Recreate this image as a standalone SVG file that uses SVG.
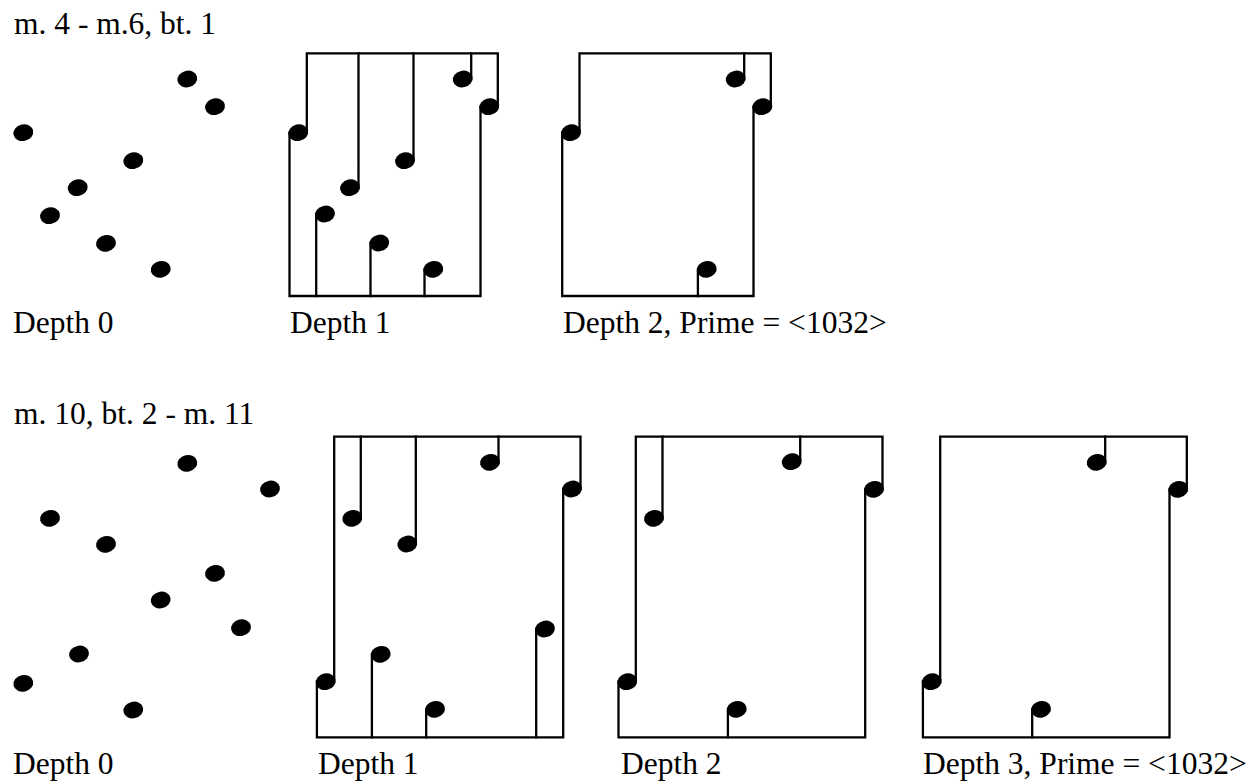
<svg xmlns="http://www.w3.org/2000/svg" xmlns:xlink="http://www.w3.org/1999/xlink" width="1251" height="782" viewBox="0 0 1251 782">
<style>
.t{font-family:"Liberation Serif","Times New Roman",serif;font-size:31.5px;fill:#000}
.ln{fill:none;stroke:#000;stroke-width:2.3;stroke-linecap:square}
</style>
<defs>
<ellipse id="h" cx="0" cy="0" rx="10" ry="8.3" transform="rotate(-12)" fill="#000"/>
</defs>
<rect width="1251" height="782" fill="#fff"/>

<g id="labels">
<text class="t" x="14" y="34">m. 4 - m.6, bt. 1</text>
<text class="t" x="13" y="333">Depth 0</text>
<text class="t" x="290" y="333">Depth 1</text>
<text class="t" x="563" y="333">Depth 2, Prime = &lt;1032&gt;</text>
<text class="t" x="14" y="424">m. 10, bt. 2 - m. 11</text>
<text class="t" x="13" y="774">Depth 0</text>
<text class="t" x="318" y="774">Depth 1</text>
<text class="t" x="621" y="774">Depth 2</text>
<text class="t" x="923" y="774">Depth 3, Prime = &lt;1032&gt;</text>
</g>

<g id="connectors">
<!-- top depth 1 -->
<path class="ln" d="M306.8 132.7 V53.3 H497.8 V106.7"/>
<path class="ln" d="M289.5 132.7 V296 H480.5 V106.7"/>
<path class="ln" d="M471.2 79 V53.3 M413.5 160.7 V53.3 M358.5 187.7 V53.3"/>
<path class="ln" d="M316.2 214 V296 M370.5 243 V296 M424.5 269.3 V296"/>
<!-- top depth 2 -->
<path class="ln" d="M579.5 132.7 V53.3 H770.8 V106.7"/>
<path class="ln" d="M562.2 132.7 V296 H753.5 V106.7"/>
<path class="ln" d="M744.2 79 V53.3 M697.9 269.3 V296"/>
<!-- bottom depth 1 -->
<path class="ln" d="M334.2 681.7 V436.7 H580.5 V489"/>
<path class="ln" d="M316.9 681.7 V737.3 H563.2 V489"/>
<path class="ln" d="M360.8 518.3 V436.7 M415.8 544 V436.7 M498.5 462.3 V436.7"/>
<path class="ln" d="M536.2 629 V737.3 M371.9 654.3 V737.3 M426.2 709.3 V737.3"/>
<!-- bottom depth 2 -->
<path class="ln" d="M635.8 681.7 V436.7 H882.5 V489.3"/>
<path class="ln" d="M618.5 681.7 V737.3 H865.2 V489.3"/>
<path class="ln" d="M662.5 518.3 V436.7 M800.2 461.7 V436.7 M727.9 709.3 V737.3"/>
<!-- bottom depth 3 -->
<path class="ln" d="M940.2 681.7 V436.7 H1186.8 V489.3"/>
<path class="ln" d="M922.9 681.7 V737.3 H1169.5 V489.3"/>
<path class="ln" d="M1105.2 462.3 V436.7 M1032.2 709.3 V737.3"/>
</g>

<g id="top-depth0">
<use xlink:href="#h" x="187.3" y="79"/>
<use xlink:href="#h" x="215" y="106.7"/>
<use xlink:href="#h" x="23.3" y="132.7"/>
<use xlink:href="#h" x="133.3" y="160.7"/>
<use xlink:href="#h" x="77.7" y="187.7"/>
<use xlink:href="#h" x="50" y="215.7"/>
<use xlink:href="#h" x="106" y="243.3"/>
<use xlink:href="#h" x="160.7" y="269.3"/>
</g>

<g id="top-depth1">
<use xlink:href="#h" x="298.3" y="132.7"/>
<use xlink:href="#h" x="489.3" y="106.7"/>
<use xlink:href="#h" x="462.7" y="79"/>
<use xlink:href="#h" x="405" y="160.7"/>
<use xlink:href="#h" x="350" y="187.7"/>
<use xlink:href="#h" x="325" y="214"/>
<use xlink:href="#h" x="379.3" y="243"/>
<use xlink:href="#h" x="433.3" y="269.3"/>
</g>

<g id="top-depth2">
<use xlink:href="#h" x="571" y="132.7"/>
<use xlink:href="#h" x="762.3" y="106.7"/>
<use xlink:href="#h" x="735.7" y="79"/>
<use xlink:href="#h" x="706.7" y="269.3"/>
</g>

<g id="bottom-depth0">
<use xlink:href="#h" x="187.3" y="463.3"/>
<use xlink:href="#h" x="270" y="489"/>
<use xlink:href="#h" x="50" y="518.3"/>
<use xlink:href="#h" x="106" y="544.3"/>
<use xlink:href="#h" x="215" y="573.3"/>
<use xlink:href="#h" x="160.7" y="600"/>
<use xlink:href="#h" x="241" y="627.7"/>
<use xlink:href="#h" x="79" y="654"/>
<use xlink:href="#h" x="23.3" y="683.3"/>
<use xlink:href="#h" x="133.3" y="710"/>
</g>

<g id="bottom-depth1">
<use xlink:href="#h" x="325.7" y="681.7"/>
<use xlink:href="#h" x="352.3" y="518.3"/>
<use xlink:href="#h" x="407.3" y="544"/>
<use xlink:href="#h" x="490" y="462.3"/>
<use xlink:href="#h" x="572" y="489"/>
<use xlink:href="#h" x="545" y="629"/>
<use xlink:href="#h" x="380.7" y="654.3"/>
<use xlink:href="#h" x="435" y="709.3"/>
</g>

<g id="bottom-depth2">
<use xlink:href="#h" x="627.3" y="681.7"/>
<use xlink:href="#h" x="874" y="489.3"/>
<use xlink:href="#h" x="654" y="518.3"/>
<use xlink:href="#h" x="791.7" y="461.7"/>
<use xlink:href="#h" x="736.7" y="709.3"/>
</g>

<g id="bottom-depth3">
<use xlink:href="#h" x="931.7" y="681.7"/>
<use xlink:href="#h" x="1178.3" y="489.3"/>
<use xlink:href="#h" x="1096.7" y="462.3"/>
<use xlink:href="#h" x="1041" y="709.3"/>
</g>
</svg>
